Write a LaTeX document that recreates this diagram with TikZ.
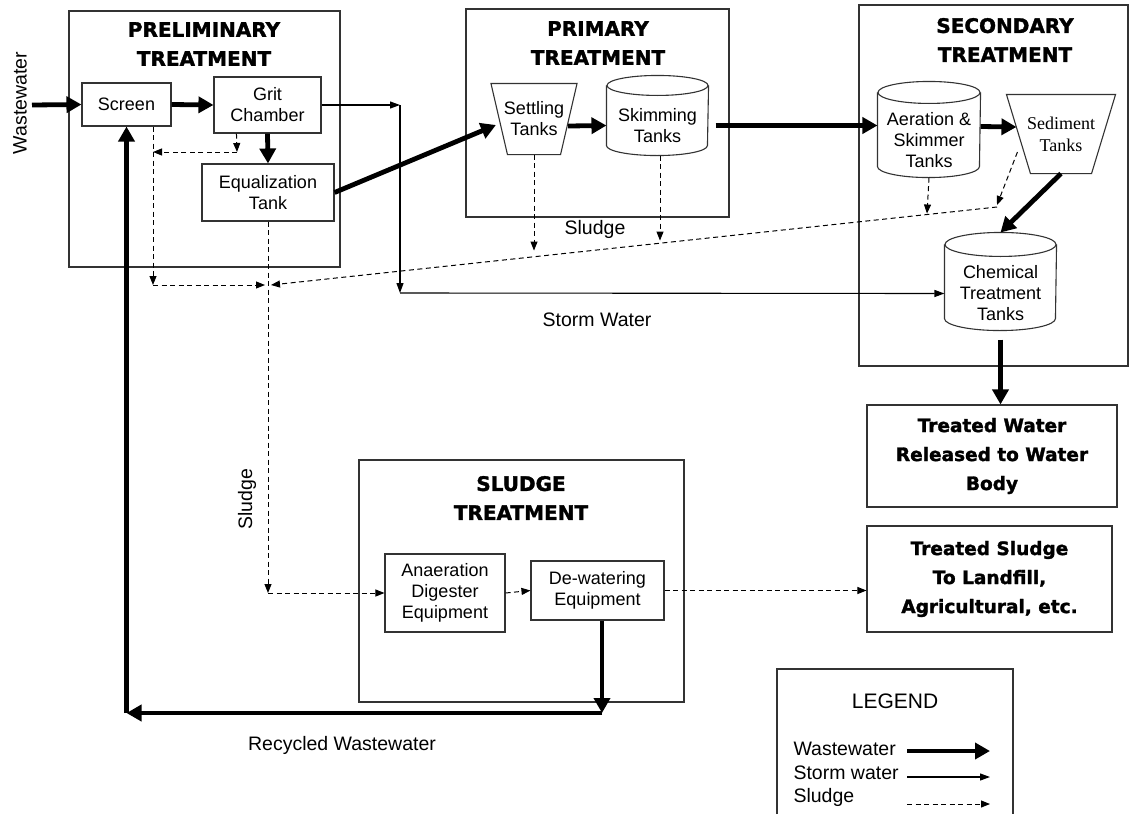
\documentclass[tikz,border=0pt]{standalone}
\usepackage{fontspec}
\setmainfont{Liberation Sans}
\newfontfamily\headfont{DejaVu Sans}[BoldFeatures={FakeBold=1.6}]
\newfontfamily\timesfont{Liberation Serif}
\usetikzlibrary{arrows.meta, calc, positioning}
\tikzstyle{wastearrow} = [line width=4.8pt, -{Triangle[length=15pt, width=16pt]}]
\tikzstyle{stormarrow} = [line width=1.1pt, -{Triangle[length=10pt, width=7pt]}]
\tikzstyle{sludgearrow} = [line width=1pt, dash pattern=on 5pt off 3.5pt, -{Triangle[length=9pt, width=7pt]}]
\tikzset{stage/.style={draw=black!80, line width=1.1pt},
  unit/.style={stage, align=center, inner sep=0pt, font=\fontsize{18}{21}\selectfont},
  vessel/.style={unit, draw=none},
  heading/.style={align=center, font=\headfont\bfseries\fontsize{20}{29}\selectfont},
  outlet/.style={unit, font=\headfont\bfseries\fontsize{18.5}{29}\selectfont},
  tag/.style={font=\fontsize{19.5}{23}\selectfont}}
% cylinder round a node: node, cap radius, half width
\newcommand{\tankoutline}[3]{%
  \draw[stage] ($(#1.north west)+(0,-#2)$) -- ($(#1.south west)+(0,-#2)$)
    arc[start angle=180, end angle=360, x radius=#3pt, y radius=#2pt]
    -- ($(#1.north east)+(0,-#2)$);
  \draw[stage] ($(#1.north)+(0,-#2)$) ellipse [x radius=#3pt, y radius=#2pt];}
% funnel round a node: node, inset of the bottom corners
\newcommand{\funneloutline}[2]{%
  \draw[stage] (#1.north west) -- (#1.north east) -- ($(#1.south east)+(-#2,0)$)
    -- ($(#1.south west)+(#2,0)$) -- cycle;}

\begin{document}
\begin{tikzpicture}[x=1pt, y=-1pt]
\useasboundingbox (0,0) rectangle (1132,814);

% Treatment stage frames
\node[stage, minimum width=271, minimum height=256] (prelim) at (204.5,139) {};
\node[stage, minimum width=263, minimum height=208] (primary) at (597.5,113) {};
\node[stage, minimum width=269, minimum height=361] (secondary) at (993.5,185.5) {};
\node[stage, minimum width=325, minimum height=242] (sludgetr) at (521.5,581) {};
\node[heading] (prelimtitle) at (204,44) {PRELIMINARY\\TREATMENT};
\node[heading] (primarytitle) at (598,43) {PRIMARY\\TREATMENT};
\node[heading] (secondarytitle) at (1005,40) {SECONDARY\\TREATMENT};
\node[heading] (sludgetitle) at (521,498) {SLUDGE\\TREATMENT};

% Units
\node[unit, minimum width=89, minimum height=43] (screen) at (126.5,104.5) {Screen};
\node[unit, minimum width=107, minimum height=56] (grit) at (267.5,105) {Grit\\Chamber};
\node[unit, minimum width=132, minimum height=57] (equal) at (268,192.5) {Equalization\\Tank};
\node[vessel, minimum width=85, minimum height=70] (settle) at (534,119) {Settling\\Tanks};
\node[vessel, minimum width=101, minimum height=59] (skim) at (657.5,125.5) {Skimming\\Tanks};
\node[vessel, minimum width=102, minimum height=73] (aer) at (929,140.5) {Aeration \&\\Skimmer\\Tanks};
\node[vessel, font=\timesfont\fontsize{18}{22}\selectfont, minimum width=108, minimum height=78] (sed) at (1061,134) {Sediment\\Tanks};
\node[vessel, minimum width=111, minimum height=73] (chem) at (1000.5,293.5) {Chemical\\Treatment\\Tanks};
\node[unit, minimum width=120, minimum height=78] (anaer) at (445,593) {Anaeration\\Digester\\Equipment};
\node[unit, minimum width=133, minimum height=59] (dewater) at (597.5,590.5) {De-watering\\Equipment};
\node[outlet, minimum width=250, minimum height=102] (twater) at (992,456) {Treated Water\\Released to Water\\Body};
\node[outlet, minimum width=245, minimum height=106] (tsludge) at (989.5,579) {Treated Sludge\\To Landfill,\\Agricultural, etc.};

\funneloutline{settle}{16.5}
\funneloutline{sed}{24}
\tankoutline{skim}{10}{50.5}
\tankoutline{aer}{11}{51}
\tankoutline{chem}{12}{55.5}

% Labels
\node[tag, rotate=90] (wwlabel) at (20,103) {Wastewater};
\node[tag] (sludgelabel) at (595,229) {Sludge};
\node[tag] (stormlabel) at (597,320) {Storm Water};
\node[tag, rotate=90] (sludgelabelb) at (247,499) {Sludge};
\node[tag] (recyclelabel) at (342,745) {Recycled Wastewater};

% Bends
\coordinate (win) at (32,105);
\coordinate (sw1) at (400,105);
\coordinate (sw2) at (400,293);
\coordinate (sl1) at (153,285);
\coordinate (sl2) at (268,285);
\coordinate (sl3) at (997,207);
\coordinate (sl4) at (268,593);
\coordinate (sl5) at (237,152);
\coordinate (sl6) at (153,152);
\coordinate (rc1) at (602,713);
\coordinate (rc2) at (126.5,713);

% Wastewater
\draw[wastearrow] (win) -- (screen.west);
\draw[wastearrow] (screen.east) -- (grit.west);
\draw[wastearrow] (grit.south) -- (equal.north);
\draw[wastearrow] (equal.east) -- ($(settle.west)+(5,6)$);
\draw[wastearrow] ($(settle.east)+(-9,7)$) -- (skim.west);
\draw[wastearrow] ($(skim.east)+(7,0)$) -- (aer.west |- skim.east);
\draw[wastearrow] ($(aer.east)+(0,-14)$) -- ($(sed.west)+(10,-7)$);
\draw[wastearrow] (sed.south) -- ($(chem.north)+(0,-24)$);
\draw[wastearrow] ($(chem.south)+(0,9)$) -- (chem.south |- twater.north);
\draw[wastearrow] (dewater.south -| rc1) -- (rc1);
\draw[wastearrow] (rc1) -- (rc2);
\draw[wastearrow] (rc2) -- (screen.south);

% Storm water
\draw[stormarrow] (grit.east) -- (sw1);
\draw[stormarrow] (sw1) -- (sw2);
\draw[stormarrow] (sw2) -- (chem.west);

% Sludge
\draw[sludgearrow] (screen.south -| sl1) -- (sl1);
\draw[sludgearrow] (sl1) -- ($(sl2)+(-3,0)$);
\draw[sludgearrow] ($(grit.south west)+(23,0)$) -- (sl5);
\draw[sludgearrow] (sl5) -- (sl6);
\draw[sludgearrow] (sl3) -- ($(sl2)+(3,0)$);
\draw[sludgearrow] (settle.south) -- ($(settle.south)+(0,96)$);
\draw[sludgearrow] ($(skim.south)+(2.5,0)$) -- ($(skim.south)+(2.5,85)$);
\draw[sludgearrow] (aer.south) -- ($(aer.south)+(-2,36)$);
\draw[sludgearrow] ($(sed.west)+(11,18)$) -- ($(sl3)+(0,-2)$);
\draw[sludgearrow] (equal.south) -- (sl4);
\draw[sludgearrow] (sl4) -- (anaer.west);
\draw[sludgearrow] (anaer.east) -- (dewater.west);
\draw[sludgearrow] (dewater.east) -- (dewater.east -| tsludge.west);

% Legend
\draw[stage] (777,814) -- (777,669) -- (1013,669) -- (1013,814);
\node[font=\fontsize{21}{25}\selectfont] (legend) at (895,701) {LEGEND};
\node[tag, anchor=base west] (lgwaste) at (790,755) {Wastewater};
\node[tag, anchor=base west] (lgstorm) at (790,779) {Storm water};
\node[tag, anchor=base west] (lgsludge) at (790,802) {Sludge};
\draw[wastearrow] ($(lgwaste.base west)+(117,-4)$) -- ++(83,0);
\draw[stormarrow] ($(lgstorm.base west)+(117,-2)$) -- ++(83,0);
\draw[sludgearrow] ($(lgsludge.base west)+(117,2)$) -- ++(83,0);
\end{tikzpicture}
\end{document}
